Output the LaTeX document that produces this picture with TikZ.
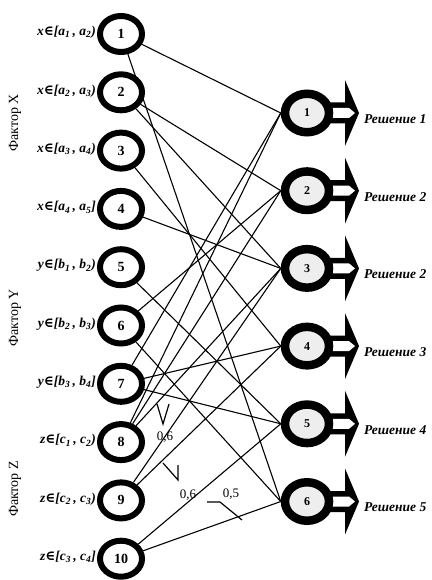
\documentclass[tikz,border=0pt]{standalone}
\usepackage{fontspec}
\setmainfont{Liberation Serif}
\newfontfamily\symfnt{DejaVu Serif}
\usetikzlibrary{shapes.geometric}
\pgfdeclarelayer{bg}
\pgfsetlayers{bg,main}
\definecolor{nodegray}{RGB}{238,238,238}
\newcommand{\mylab}[5]{{\bfseries\itshape #1{\symfnt\bfseries ∈}[#2\textsubscript{#3}\,, #2\textsubscript{#4}#5}}
\tikzset{
  lnode/.style={ellipse, draw=black, line width=6pt, fill=white, minimum width=42pt, minimum height=36pt, inner sep=0pt, font=\fontsize{14}{14}\selectfont\bfseries},
  rnode/.style={ellipse, draw=black, line width=8.5pt, fill=nodegray, minimum width=44pt, minimum height=38.5pt, inner sep=0pt, font=\fontsize{12}{12}\selectfont\bfseries},
  llab/.style={anchor=east, inner sep=0pt, font=\fontsize{13.5}{13.5}\selectfont},
  rlab/.style={anchor=west, inner sep=0pt, font=\fontsize{13.5}{13.5}\selectfont\bfseries\itshape},
  flab/.style={rotate=90, inner sep=0pt, font=\fontsize{14}{14}\selectfont},
  wlab/.style={inner sep=0pt, font=\fontsize{13}{13}\selectfont},
  conn/.style={line width=1.1pt},
  amark/.style={line width=1.2pt}
}
\begin{document}
\begin{tikzpicture}[x=1pt,y=-1pt]
\useasboundingbox (0,0) rectangle (431,580);
% left nodes
\foreach \i in {1,...,10} {
  \node[lnode] (L\i) at (121,{34+58.3*(\i-1)}) {\i};
}
% right nodes
\foreach \j in {1,...,6} {
  \node[rnode] (R\j) at (307,{113+77.7*(\j-1)}) {\j};
}
% left labels
\node[llab] (t1) at (96,32.5) {\mylab{x}{a}{1}{2})};
\node[llab] (t2) at (96,90.8) {\mylab{x}{a}{2}{3})};
\node[llab] (t3) at (96,149.1) {\mylab{x}{a}{3}{4})};
\node[llab] (t4) at (96,207.4) {\mylab{x}{a}{4}{5}]};
\node[llab] (t5) at (96,265.7) {\mylab{y}{b}{1}{2})};
\node[llab] (t6) at (96,324.0) {\mylab{y}{b}{2}{3})};
\node[llab] (t7) at (96,382.3) {\mylab{y}{b}{3}{4}]};
\node[llab] (t8) at (96,440.6) {\mylab{z}{c}{1}{2})};
\node[llab] (t9) at (96,498.9) {\mylab{z}{c}{2}{3})};
\node[llab] (t10) at (96,557.2) {\mylab{z}{c}{3}{4}]};
% factor labels
\node[flab] (fx) at (15,123) {Фактор X};
\node[flab] (fy) at (15,318) {Фактор Y};
\node[flab] (fz) at (15,489) {Фактор Z};
% right labels
\node[rlab] (s1) at (364,119) {Решение 1};
\node[rlab] (s2) at (364,196.7) {Решение 2};
\node[rlab] (s3) at (364,274.4) {Решение 2};
\node[rlab] (s4) at (364,352.1) {Решение 3};
\node[rlab] (s5) at (364,429.8) {Решение 4};
\node[rlab] (s6) at (364,507.5) {Решение 5};
% weight labels
\node[wlab] (w1) at (165,437) {0,6};
\node[wlab] (w2) at (188,495) {0,6};
\node[wlab] (w3) at (231,494) {0,5};
\begin{pgfonlayer}{bg}
  % connectors
  \foreach \a/\b in {1/1,1/6,2/2,2/3,3/4,4/3,5/5,6/2,6/6,7/1,7/4,7/5,8/1,8/2,8/3,9/3,9/4,10/5,10/6} {
    \draw[conn] (L\a) -- (R\b.west);
  }
  % output arrows
  \foreach \j in {1,...,6} {
    \begin{scope}[shift={(307,{113+77.7*(\j-1)})}]
      \fill[black] (18,-10.5) -- (38,-10.5) -- (38,-33) -- (52,0) -- (38,33) -- (38,10.5) -- (18,10.5) -- cycle;
      \fill[white] (18,-5) -- (42,-5) -- (48,0) -- (42,5) -- (18,5) -- cycle;
    \end{scope}
  }
  % angle marks
  \draw[amark] (157,404) -- (163,424) -- (169,404);
  \draw[amark] (163,463) -- (178,480) -- (178,465);
  \draw[amark] (207,502) -- (220,502) -- (242,520);
\end{pgfonlayer}
\end{tikzpicture}
\end{document}
